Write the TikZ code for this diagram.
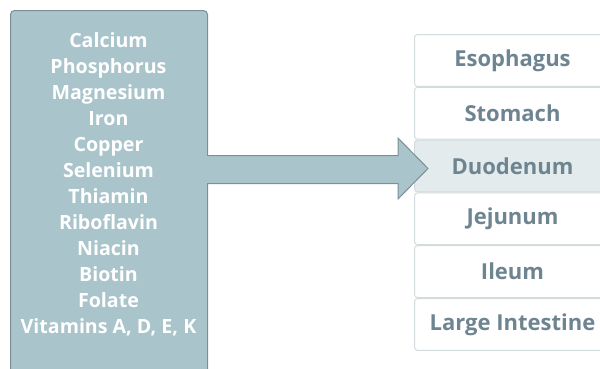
\documentclass[tikz,border=0pt]{standalone}
\usepackage{fontspec}
\setmainfont{Open Sans}
\definecolor{boxfill}{HTML}{A9C4CB}
\definecolor{boxline}{HTML}{7C8F99}
\definecolor{organline}{HTML}{D3DBDE}
\definecolor{organtext}{HTML}{6E8591}
\definecolor{hilite}{HTML}{E3EBED}
\tikzset{
  srcbox/.style={draw=boxline, fill=boxfill, line width=1pt, rounded corners=4pt,
    minimum width=197pt, minimum height=372pt, inner sep=0pt, anchor=north west},
  organ/.style={draw=organline, fill=white, line width=1pt, rounded corners=3pt,
    minimum width=196pt, minimum height=51.8pt, inner sep=0pt, anchor=north west,
    text=organtext, font=\fontsize{22}{26}\selectfont\bfseries},
  organsel/.style={organ, fill=hilite},
  listtext/.style={text=white, font=\fontsize{19.6}{26}\selectfont\bfseries, align=center, inner sep=0pt},
  bigarrow/.style={draw=boxline, fill=boxfill, line width=1pt, line join=miter}
}
\begin{document}
\begin{tikzpicture}[x=1pt,y=-1pt]
\useasboundingbox (0,0) rectangle (600,368);
\node[srcbox] (src) at (10,10) {};
\node[listtext, anchor=north] (list) at (108.5,32) {Calcium\\Phosphorus\\Magnesium\\Iron\\Copper\\Selenium\\Thiamin\\Riboflavin\\Niacin\\Biotin\\Folate\\Vitamins A, D, E, K};
\node[organ] (eso) at (414,34) {Esophagus};
\node[organ] (sto) at (eso.south west) {Stomach};
\node[organsel] (duo) at (sto.south west) {Duodenum};
\node[organ] (jej) at (duo.south west) {Jejunum};
\node[organ] (ile) at (jej.south west) {Ileum};
\node[organ] (lar) at (ile.south west) {Large Intestine};
% big arrow from the list box to the duodenum
\coordinate (tip) at ([xshift=14pt,yshift=-2.5pt]duo.west);
\path (src.east |- tip) coordinate (root);
\coordinate (rt) at ([xshift=-1pt,yshift=13pt]root);
\coordinate (rb) at ([xshift=-1pt,yshift=-15pt]root);
\coordinate (st) at ([xshift=-30pt,yshift=13pt]tip);
\coordinate (sb) at ([xshift=-30pt,yshift=-15pt]tip);
\coordinate (ht) at ([xshift=-30pt,yshift=30.5pt]tip);
\coordinate (hb) at ([xshift=-30pt,yshift=-30.5pt]tip);
\draw[bigarrow] (rt) -- (st) -- (ht) -- (tip) -- (hb) -- (sb) -- (rb);
\fill[boxfill] ([xshift=-1.5pt,yshift=12.5pt]root) rectangle ([xshift=0.6pt,yshift=-14.5pt]root);
\end{tikzpicture}
\end{document}
